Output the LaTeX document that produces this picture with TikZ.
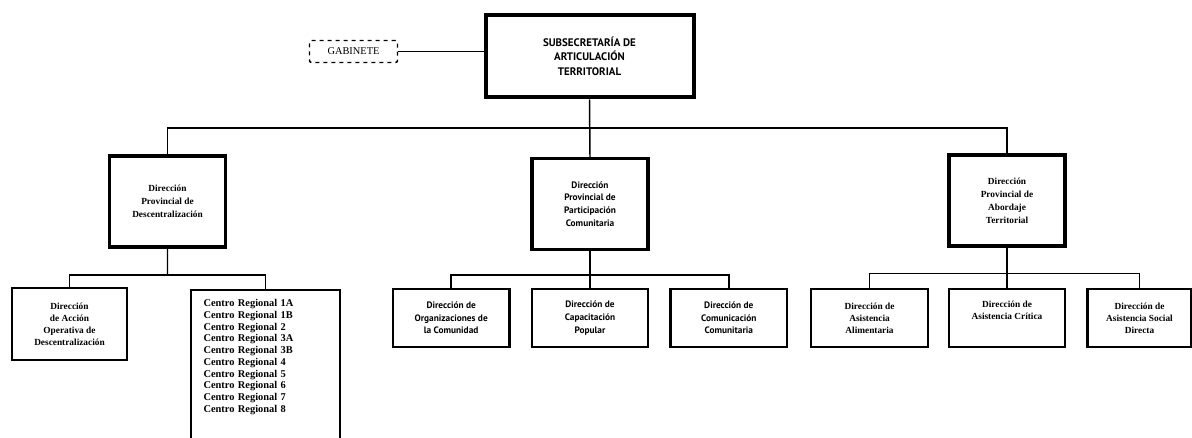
\documentclass[tikz,border=0pt]{standalone}
\usepackage{fontspec}
\setmainfont{Liberation Serif}
\newfontfamily\gillfont{PT Sans}
\usetikzlibrary{positioning,calc}
\tikzset{
  head/.style={rectangle, draw=black, line width=3pt, minimum width=156pt, minimum height=62pt, align=center, font=\gillfont\bfseries\fontsize{8.2}{10.8}\selectfont},
  dir/.style={rectangle, draw=black, line width=2.6pt, minimum width=87pt, minimum height=68pt, align=center, font=\bfseries\fontsize{7}{9.75}\selectfont},
  unit/.style={rectangle, draw=black, line width=1.6pt, minimum width=87.5pt, minimum height=44pt, align=center, font=\bfseries\fontsize{7}{9}\selectfont},
  gab/.style={rectangle, draw=black, dashed, line width=1.1pt, rounded corners=1.5pt, minimum width=66pt, minimum height=16.5pt, font=\fontsize{7.8}{9}\selectfont},
  sans/.style={font=\gillfont\bfseries\fontsize{7}{9.5}\selectfont},
  connect/.style={line width=1.1pt}
}
\begin{document}
\begin{tikzpicture}[x=0.75pt, y=-0.75pt]
    \useasboundingbox (0,0) rectangle (1192,437);
    \node[head] (Sub) at (589.5,56) {SUBSECRETARÍA DE\\ARTICULACIÓN\\TERRITORIAL};
    \node[gab] (Gab) at (353.5,51.5) {GABINETE};

    \node[dir] (DPD) at (167.5,201.5) {Dirección\\Provincial de\\Descentralización};
    \node[dir,sans] (DPP) at (590,204) {Dirección\\Provincial de\\Participación\\Comunitaria};
    \node[dir] (DPA) at (1007,200.5) {Dirección\\Provincial de\\Abordaje\\Territorial};

    \node[unit, minimum width=86pt, minimum height=54pt] (DAO) at (69.5,324)
        {Dirección\\de Acción\\Operativa de\\Descentralización};
    \node[unit, anchor=north, align=left, text width=93pt, inner xsep=9.5pt, inner ysep=7pt,
          text depth=108pt, font=\bfseries\fontsize{7.8}{8.8}\selectfont] (CR) at (265.5,289)
        {Centro Regional 1A\\Centro Regional 1B\\Centro Regional 2\\Centro Regional 3A\\
         Centro Regional 3B\\Centro Regional 4\\Centro Regional 5\\Centro Regional 6\\
         Centro Regional 7\\Centro Regional 8};

    \node[unit,sans] (CAP) at (590,318) {Dirección de\\Capacitación\\Popular};
    \node[unit,sans] (ORG) [left=15pt of CAP] {Dirección de\\Organizaciones de\\la Comunidad};
    \node[unit,sans] (COM) [right=15pt of CAP] {Dirección de\\Comunicación\\Comunitaria};

    \node[unit, text depth=11pt] (ASC) at (1007,318) {Dirección de\\Asistencia Crítica};
    \node[unit] (ALI) [left=14pt of ASC] {Dirección de\\Asistencia\\Alimentaria};
    \node[unit, minimum width=78pt] (ASD) [right=15pt of ASC] {Dirección de\\Asistencia Social\\Directa};

    \coordinate (bus) at ($(Sub.south)!0.5!(DPP.north)$);
    \coordinate (busD) at ($(DPD.south)!0.65!(DPD.south |- CR.north)$);
    \coordinate (busP) at ($(DPP.south)!0.65!(CAP.north)$);
    \coordinate (busA) at ($(DPA.south)!0.65!(ASC.north)$);

    \draw[connect] (Gab.east) -- (Gab.east -| Sub.west);
    \draw[connect] (Sub.south) -- (DPP.north);
    \draw[connect] (DPD.north) |- (bus) -| (DPA.north);

    \draw[connect] (DPD.south) -- (busD);
    \draw[connect] (DAO.north) |- (busD) -| (CR.north);
    \draw[connect] (DPP.south) -- (CAP.north);
    \draw[connect] (ORG.north) |- (busP) -| (COM.north);
    \draw[connect] (DPA.south) -- (ASC.north);
    \draw[connect] (ALI.north) |- (busA) -| (ASD.north);
\end{tikzpicture}
\end{document}
